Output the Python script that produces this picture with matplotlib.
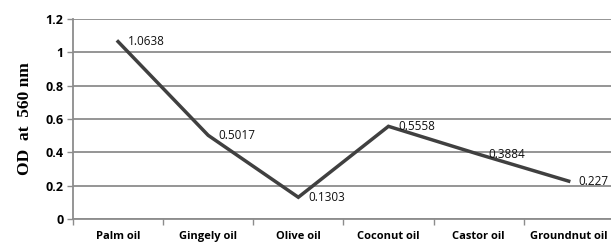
import matplotlib.pyplot as plt
import numpy as np

# datos
oils = ["Palm oil", "Gingely oil", "Olive oil", "Coconut oil", "Castor oil", "Groundnut oil"]
od_values = [1.0638, 0.5017, 0.1303, 0.5558, 0.3884, 0.227]
value_labels = ["1.0638", "0.5017", "0.1303", "0.5558", "0.3884", "0.227"]
y_ticks = [0, 0.2, 0.4, 0.6, 0.8, 1, 1.2]

fig = plt.figure(figsize=(6.11, 2.44), dpi=100)
ax = fig.add_axes([0.1195, 0.1025, 0.885, 0.82])

x = np.arange(len(oils))
ax.plot(x, od_values, color="#404040", linewidth=2.5, solid_joinstyle="miter")

for xi, yi, lab in zip(x, od_values, value_labels):
    ax.annotate(lab, (xi, yi), xytext=(7, 0), textcoords="offset points",
                ha="left", va="center", fontsize=8.5, family="Open Sans", color="#111111")

ax.set_xlim(-0.5, 5.5)
ax.set_ylim(0, 1.2)
ax.set_yticks(y_ticks)
ax.set_yticklabels([f"{t:g}" for t in y_ticks], fontsize=9, family="Open Sans", fontweight="bold")
ax.yaxis.grid(True, color="#8c8c8c", linewidth=1.3)
ax.set_axisbelow(True)

# ticks del eje x entre categorias
ax.set_xticks(np.arange(-0.5, 5.6, 1.0))
ax.set_xticklabels([])
ax.set_xticks(x, minor=True)
ax.set_xticklabels(oils, minor=True, fontsize=8, family="Open Sans", fontweight="bold")
ax.tick_params(axis="x", which="minor", length=0, pad=9)
ax.tick_params(axis="x", which="major", length=4, color="#8c8c8c", width=1)
ax.tick_params(axis="y", length=4, color="#8c8c8c", width=1, pad=3)

for s in ["top", "right"]:
    ax.spines[s].set_visible(False)
ax.spines["left"].set_color("#8c8c8c")
ax.spines["bottom"].set_color("#8c8c8c")
ax.spines["left"].set_linewidth(1.3)
ax.spines["bottom"].set_linewidth(1.3)

ax.set_ylabel("OD  at  560 nm", family="Liberation Serif", fontweight="bold", fontsize=12.5, labelpad=9)

fig.savefig("out.png", dpi=100)
